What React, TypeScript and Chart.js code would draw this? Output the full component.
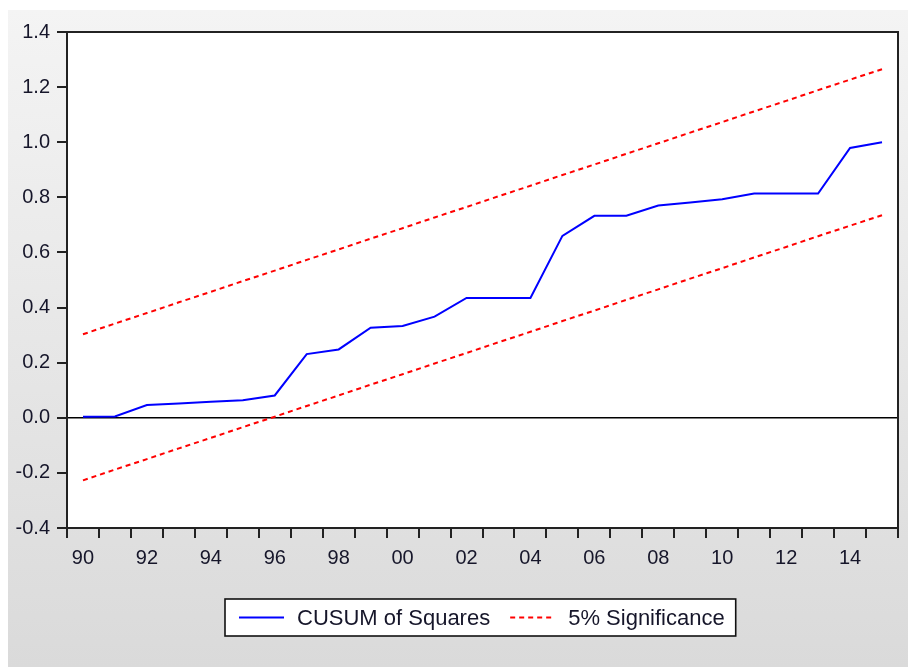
import { useEffect, useRef } from "react";
import { Chart, registerables } from "chart.js";

Chart.register(...registerables);

// Annual observations, 1990–2015
const years = [
  1990, 1991, 1992, 1993, 1994, 1995, 1996, 1997, 1998, 1999, 2000, 2001, 2002,
  2003, 2004, 2005, 2006, 2007, 2008, 2009, 2010, 2011, 2012, 2013, 2014, 2015,
];

// CUSUM of squares statistic
const cusumSquares = [
  0.004, 0.005, 0.046, 0.052, 0.058, 0.064, 0.081, 0.231, 0.248, 0.327, 0.333,
  0.367, 0.435, 0.435, 0.435, 0.660, 0.733, 0.733, 0.770, 0.781, 0.793, 0.814,
  0.814, 0.814, 0.979, 1.0,
];

// 5% significance bounds
const upperBound = [
  0.303, 0.342, 0.380, 0.419, 0.457, 0.496, 0.534, 0.573, 0.611, 0.650, 0.688,
  0.727, 0.765, 0.804, 0.842, 0.881, 0.919, 0.958, 0.996, 1.035, 1.073, 1.112,
  1.150, 1.189, 1.227, 1.265,
];
const lowerBound = [
  -0.227, -0.188, -0.150, -0.111, -0.073, -0.034, 0.004, 0.043, 0.081, 0.120,
  0.158, 0.197, 0.235, 0.274, 0.312, 0.351, 0.389, 0.428, 0.466, 0.505, 0.543,
  0.582, 0.620, 0.659, 0.697, 0.735,
];

const yMin = -0.4;
const yMax = 1.4;
const yStep = 0.2;

const FONT_FAMILY = '"Liberation Sans", Arial, Helvetica, sans-serif';
const TEXT_COLOR = "#16162a";
const AXIS_COLOR = "#222222";

// Light grey panel behind the whole graph, white plot area
const panelBackground = {
  id: "panelBackground",
  beforeDraw(chart: any) {
    const { ctx, width, height, chartArea } = chart;
    ctx.save();
    ctx.fillStyle = "#ffffff";
    ctx.fillRect(0, 0, width, height);
    const g = ctx.createLinearGradient(0, 10, 0, height);
    g.addColorStop(0, "#f4f4f4");
    g.addColorStop(1, "#dadada");
    ctx.fillStyle = g;
    ctx.fillRect(8, 10, width - 8, height - 10);
    ctx.fillStyle = "#ffffff";
    ctx.fillRect(
      chartArea.left,
      chartArea.top,
      chartArea.right - chartArea.left,
      chartArea.bottom - chartArea.top
    );
    ctx.restore();
  },
};

// Zero reference line under the series, frame over them
const zeroLineAndFrame = {
  id: "zeroLineAndFrame",
  beforeDatasetsDraw(chart: any) {
    const { ctx, chartArea, scales } = chart;
    const y0 = scales.y.getPixelForValue(0);
    ctx.save();
    ctx.strokeStyle = "#000000";
    ctx.lineWidth = 1.5;
    ctx.beginPath();
    ctx.moveTo(chartArea.left, y0);
    ctx.lineTo(chartArea.right, y0);
    ctx.stroke();
    ctx.restore();
  },
  afterDatasetsDraw(chart: any) {
    const { ctx, chartArea } = chart;
    ctx.save();
    ctx.strokeStyle = AXIS_COLOR;
    ctx.lineWidth = 2;
    ctx.strokeRect(
      chartArea.left,
      chartArea.top,
      chartArea.right - chartArea.left,
      chartArea.bottom - chartArea.top
    );
    ctx.restore();
  },
};

// Boxed legend below the axis, one entry per distinct label
const boxedLegend = {
  id: "boxedLegend",
  afterDraw(chart: any) {
    const { ctx, chartArea } = chart;
    const seen = new Set<string>();
    const items = chart.data.datasets.filter((ds: any) => {
      if (seen.has(ds.label)) return false;
      seen.add(ds.label);
      return true;
    });
    ctx.save();
    ctx.font = `22px ${FONT_FAMILY}`;
    const padL = 14;
    const padR = 11;
    const sample = 45;
    const sampleGap = 13;
    const itemGap = 20;
    const widths = items.map((ds: any) => ctx.measureText(ds.label).width);
    let total = padL + padR;
    widths.forEach((w: number, i: number) => {
      total += sample + sampleGap + w + (i > 0 ? itemGap : 0);
    });
    const boxH = 37;
    const boxTop = chartArea.bottom + 71;
    const cx = (chartArea.left + chartArea.right) / 2 - 2;
    const boxLeft = Math.round(cx - total / 2);
    ctx.fillStyle = "#ffffff";
    ctx.fillRect(boxLeft, boxTop, total, boxH);
    ctx.strokeStyle = "#111111";
    ctx.lineWidth = 1.6;
    ctx.strokeRect(boxLeft, boxTop, total, boxH);
    const midY = boxTop + boxH / 2;
    let x = boxLeft + padL;
    items.forEach((ds: any, i: number) => {
      if (i > 0) x += itemGap;
      ctx.strokeStyle = ds.borderColor;
      ctx.lineWidth = 2;
      ctx.setLineDash(ds.borderDash || []);
      ctx.beginPath();
      ctx.moveTo(x, midY);
      ctx.lineTo(x + sample, midY);
      ctx.stroke();
      ctx.setLineDash([]);
      x += sample + sampleGap;
      ctx.fillStyle = TEXT_COLOR;
      ctx.textBaseline = "middle";
      ctx.textAlign = "left";
      ctx.fillText(ds.label, x, midY + 1);
      x += widths[i];
    });
    ctx.restore();
  },
};

export default function App() {
  const canvasRef = useRef<HTMLCanvasElement | null>(null);

  useEffect(() => {
    const canvas = canvasRef.current;
    if (!canvas) return;
    Chart.defaults.font.family = FONT_FAMILY;

    const chart = new Chart(canvas, {
      type: "line",
      data: {
        labels: years.map(String),
        datasets: [
          {
            label: "CUSUM of Squares",
            data: cusumSquares,
            borderColor: "#0000ff",
            borderWidth: 2,
            pointRadius: 0,
            tension: 0,
            fill: false,
          },
          {
            label: "5% Significance",
            data: upperBound,
            borderColor: "#ff0000",
            borderWidth: 2,
            borderDash: [5, 4],
            pointRadius: 0,
            tension: 0,
            fill: false,
          },
          {
            label: "5% Significance",
            data: lowerBound,
            borderColor: "#ff0000",
            borderWidth: 2,
            borderDash: [5, 4],
            pointRadius: 0,
            tension: 0,
            fill: false,
          },
        ],
      },
      options: {
        animation: false,
        responsive: true,
        maintainAspectRatio: false,
        devicePixelRatio: 1,
        layout: { padding: { top: 32, right: 10, bottom: 99, left: 0 } },
        plugins: {
          legend: { display: false },
          tooltip: { enabled: false },
        },
        scales: {
          x: {
            type: "category",
            offset: true,
            grid: {
              offset: true,
              drawOnChartArea: false,
              drawTicks: true,
              tickLength: 10,
              lineWidth: 2,
              color: AXIS_COLOR,
            },
            border: { display: true, color: AXIS_COLOR, width: 2 },
            ticks: {
              autoSkip: false,
              maxRotation: 0,
              minRotation: 0,
              padding: 8,
              color: TEXT_COLOR,
              font: { size: 20, family: FONT_FAMILY },
              callback: (_v: any, index: number) => {
                const yr = years[index];
                return yr % 2 === 0 ? String(yr).slice(2) : "";
              },
            },
            afterFit: (scale: any) => {
              scale.height = 40;
            },
          },
          y: {
            type: "linear",
            min: yMin,
            max: yMax,
            grid: {
              drawOnChartArea: false,
              drawTicks: true,
              tickLength: 10,
              lineWidth: 2,
              color: AXIS_COLOR,
            },
            border: { display: true, color: AXIS_COLOR, width: 2 },
            ticks: {
              stepSize: yStep,
              padding: 7,
              color: TEXT_COLOR,
              font: { size: 20, family: FONT_FAMILY },
              callback: (v: any) => {
                const n = Number(v);
                return (Math.abs(n) < 1e-9 ? 0 : n).toFixed(1);
              },
            },
            afterFit: (scale: any) => {
              scale.width = 67;
            },
          },
        },
      },
      plugins: [panelBackground, zeroLineAndFrame, boxedLegend],
    });

    return () => chart.destroy();
  }, []);

  return (
    <div
      style={{
        position: "fixed",
        left: 0,
        top: 0,
        width: 908,
        height: 667,
      }}
    >
      <canvas ref={canvasRef} />
    </div>
  );
}
